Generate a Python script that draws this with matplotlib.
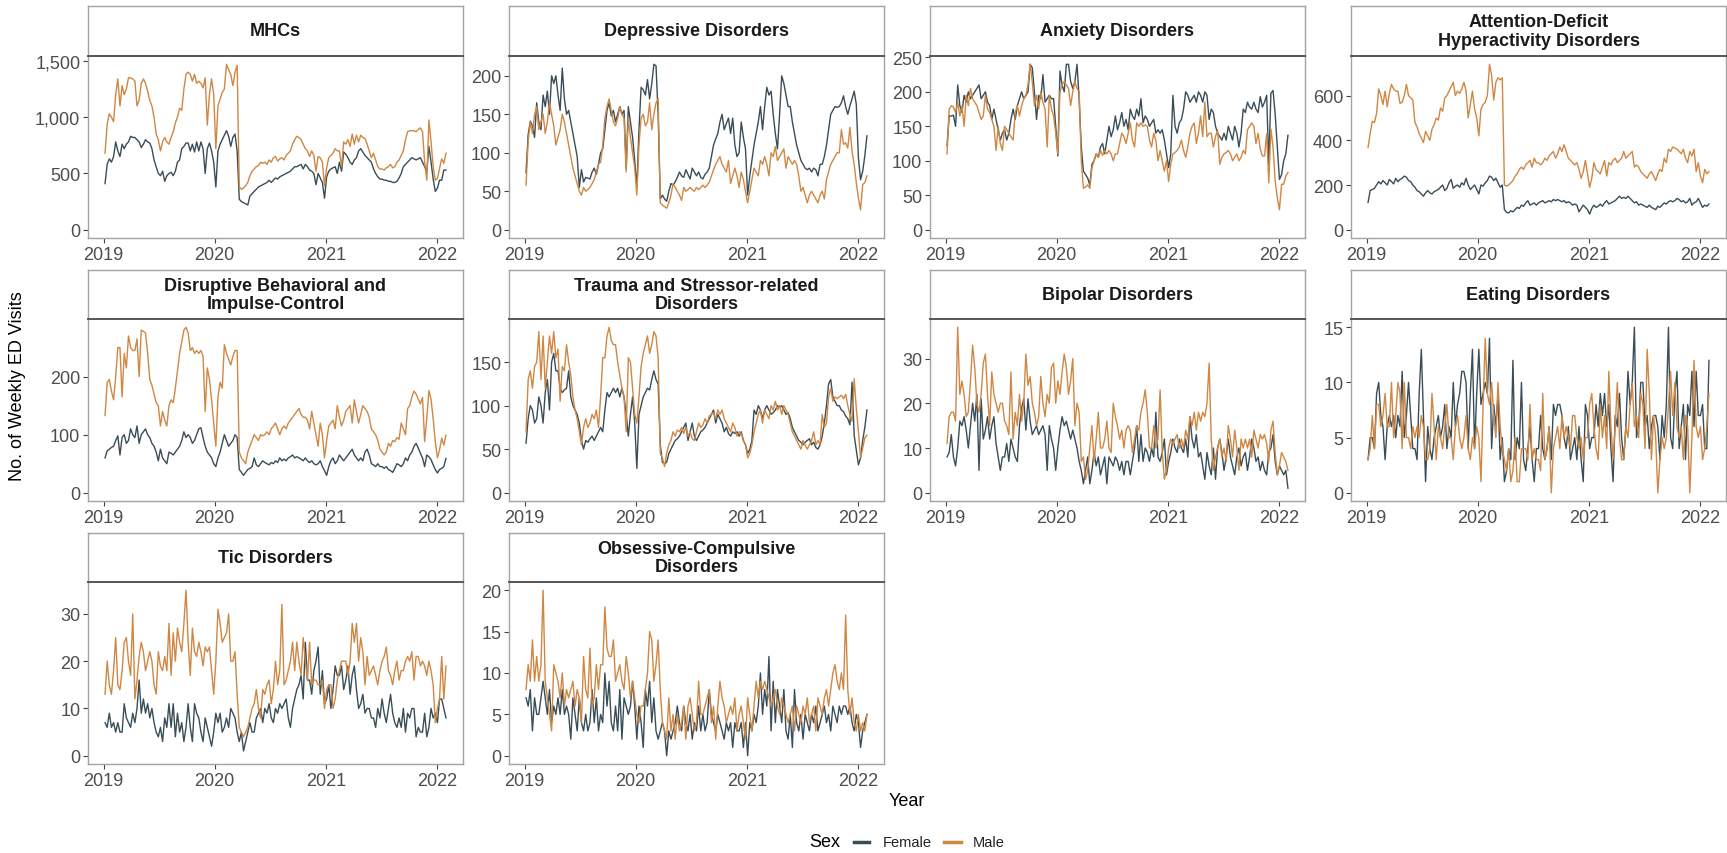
import pandas as pd
import matplotlib.pyplot as plt
import matplotlib.dates as mdates
from matplotlib.lines import Line2D
from matplotlib.ticker import FuncFormatter
from datetime import datetime

plt.rcParams['font.family'] = ['Liberation Sans', 'DejaVu Sans']

# weekly ED visits, Jan 2019 - Jan 2022
weeks = pd.date_range('2019-01-06', periods=161, freq='7D')
year_ticks = [2019, 2020, 2021, 2022]

titles = ['MHCs', 'Depressive Disorders', 'Anxiety Disorders',
          'Attention-Deficit\nHyperactivity Disorders',
          'Disruptive Behavioral and\nImpulse-Control',
          'Trauma and Stressor-related\nDisorders', 'Bipolar Disorders',
          'Eating Disorders', 'Tic Disorders',
          'Obsessive-Compulsive\nDisorders']

y_ticks = [[0, 500, 1000, 1500], [0, 50, 100, 150, 200],
           [0, 50, 100, 150, 200, 250], [0, 200, 400, 600],
           [0, 100, 200], [0, 50, 100, 150], [0, 10, 20, 30],
           [0, 5, 10, 15], [0, 10, 20, 30], [0, 5, 10, 15, 20]]

mhc_female = [410, 580, 630, 600, 650, 780, 700, 650, 760, 720,
              760, 780, 830, 820, 820, 800, 780, 730, 760, 800,
              780, 770, 720, 620, 560, 500, 480, 520, 430, 480,
              500, 510, 480, 520, 600, 620, 720, 740, 770, 770,
              700, 760, 690, 780, 700, 780, 720, 500, 720, 770,
              700, 600, 380, 700, 760, 800, 840, 880, 830, 740,
              820, 850, 700, 270, 250, 240, 230, 220, 300, 320,
              340, 360, 380, 390, 400, 410, 420, 440, 420, 440,
              460, 450, 470, 480, 490, 500, 510, 520, 540, 560,
              560, 570, 580, 540, 580, 560, 530, 520, 500, 400,
              500, 460, 420, 280, 470, 520, 540, 550, 560, 500,
              600, 520, 690, 670, 640, 600, 580, 620, 640, 700,
              720, 690, 660, 640, 620, 600, 540, 500, 470, 450,
              450, 440, 440, 430, 430, 420, 420, 430, 460, 500,
              560, 580, 600, 620, 640, 630, 620, 630, 640, 600,
              560, 515, 740, 600, 450, 340, 370, 440, 440, 530,
              530]
mhc_male = [680, 940, 1030, 1000, 960, 1200, 1340, 1100, 1280, 1200,
            1250, 1350, 1350, 1340, 1320, 1100, 1150, 1300, 1340, 1300,
            1230, 1150, 1100, 1000, 850, 800, 700, 780, 820, 780,
            760, 820, 870, 950, 1000, 1080, 1060, 1250, 1380, 1400,
            1380, 1320, 1380, 1300, 1320, 1300, 1260, 1350, 930, 1200,
            1340, 1200, 720, 1100, 1160, 1220, 1250, 1470, 1420, 1380,
            1280, 1400, 1460, 380, 360, 370, 390, 420, 480, 520,
            540, 560, 570, 600, 590, 600, 580, 620, 600, 640,
            650, 610, 630, 640, 620, 660, 680, 700, 760, 800,
            830, 820, 800, 760, 720, 700, 650, 700, 660, 520,
            650, 640, 600, 390, 550, 640, 660, 680, 720, 700,
            700, 560, 780, 760, 800, 740, 850, 760, 840, 780,
            840, 820, 810, 760, 700, 640, 680, 620, 560, 540,
            540, 530, 550, 560, 580, 550, 560, 600, 620, 660,
            700, 800, 870, 880, 880, 880, 870, 890, 905, 870,
            600, 440, 975, 780, 560, 440, 455, 545, 630, 590,
            680]

dep_female = [74, 124, 141, 135, 120, 165, 140, 130, 175, 160,
              180, 150, 200, 190, 200, 175, 155, 210, 170, 150,
              155, 140, 125, 110, 95, 55, 78, 62, 68, 67,
              66, 75, 80, 72, 85, 100, 105, 130, 155, 165,
              148, 155, 140, 150, 160, 150, 155, 80, 160, 140,
              120, 90, 55, 130, 185, 182, 175, 195, 170, 190,
              215, 213, 150, 40, 45, 40, 37, 50, 60, 58,
              62, 68, 75, 70, 68, 78, 72, 66, 80, 75,
              70, 75, 68, 66, 72, 75, 80, 95, 110, 118,
              125, 140, 150, 130, 138, 145, 125, 145, 110, 95,
              100, 140, 120, 105, 45, 70, 90, 110, 125, 140,
              160, 130, 160, 185, 175, 180, 150, 125, 105, 150,
              200, 190, 175, 160, 160, 140, 125, 110, 100, 90,
              85, 80, 78, 80, 75, 80, 78, 70, 85, 85,
              95, 110, 130, 150, 155, 160, 159, 160, 165, 174,
              160, 150, 161, 170, 180, 163, 93, 65, 76, 96,
              122]
dep_male = [58, 115, 140, 125, 150, 160, 130, 140, 150, 125,
            140, 165, 150, 135, 110, 120, 130, 150, 140, 125,
            110, 95, 80, 70, 60, 50, 45, 55, 50, 52,
            55, 60, 65, 75, 85, 88, 110, 145, 160, 170,
            155, 140, 135, 145, 160, 150, 145, 75, 145, 120,
            100, 80, 45, 110, 145, 150, 135, 140, 165, 130,
            150, 165, 170, 35, 32, 30, 28, 35, 45, 60,
            55, 50, 45, 38, 55, 50, 52, 55, 52, 50,
            55, 52, 55, 58, 55, 58, 62, 70, 78, 85,
            90, 95, 85, 80, 75, 90, 60, 70, 80, 70,
            55, 75, 65, 50, 35, 50, 65, 80, 75, 70,
            90, 85, 95, 85, 70, 100, 95, 108, 90, 95,
            100, 105, 80, 95, 90, 85, 90, 85, 70, 50,
            55, 45, 35, 45, 50, 45, 40, 35, 45, 50,
            40, 65, 75, 85, 90, 95, 100, 100, 130, 111,
            113, 106, 133, 102, 85, 61, 41, 26, 59, 61,
            70]

anx_female = [122, 165, 165, 166, 150, 210, 180, 170, 195, 185,
              200, 190, 195, 200, 205, 210, 190, 195, 200, 185,
              180, 160, 175, 160, 145, 130, 140, 145, 130, 140,
              160, 175, 160, 180, 190, 200, 190, 195, 200, 240,
              235, 200, 160, 195, 190, 225, 185, 190, 195, 190,
              190, 150, 107, 230, 210, 200, 240, 240, 215, 205,
              215, 240, 190, 120, 85, 80, 75, 65, 95, 100,
              110, 105, 120, 125, 110, 130, 150, 135, 145, 165,
              145, 155, 170, 150, 160, 145, 175, 165, 160, 175,
              165, 190, 155, 165, 160, 150, 155, 160, 140, 145,
              140, 145, 130, 110, 90, 110, 195, 150, 140, 155,
              160, 175, 200, 195, 185, 190, 195, 185, 200, 195,
              185, 200, 195, 160, 175, 170, 150, 140, 135, 130,
              140, 130, 150, 140, 130, 150, 140, 120, 140, 175,
              170, 185, 178, 175, 185, 175, 170, 193, 178, 185,
              195, 95, 198, 202, 168, 120, 73, 80, 100, 110,
              137]
anx_male = [110, 175, 180, 178, 170, 185, 165, 180, 150, 195,
            180, 205, 190, 185, 180, 170, 160, 165, 195, 175,
            170, 160, 150, 115, 150, 125, 115, 150, 145, 140,
            135, 130, 170, 180, 165, 180, 190, 195, 210, 240,
            215, 180, 195, 175, 200, 185, 175, 120, 195, 175,
            165, 140, 110, 200, 210, 215, 210, 205, 180, 200,
            215, 205, 200, 100, 60, 62, 65, 60, 90, 100,
            110, 105, 115, 108, 115, 110, 115, 110, 100, 110,
            110, 125, 140, 135, 125, 140, 155, 130, 120, 155,
            150, 155, 150, 152, 150, 130, 120, 140, 130, 100,
            115, 100, 85, 100, 70, 95, 110, 112, 115, 120,
            130, 115, 105, 120, 140, 150, 155, 125, 140, 165,
            135, 185, 135, 140, 140, 120, 135, 145, 95, 105,
            110, 112, 115, 110, 100, 105, 110, 100, 105, 115,
            110, 145, 150, 155, 150, 125, 140, 117, 107, 107,
            139, 68, 146, 120, 71, 46, 29, 66, 66, 78,
            83]

adhd_female = [122, 175, 180, 185, 200, 215, 205, 220, 210, 200,
               225, 215, 205, 230, 215, 225, 230, 240, 235, 220,
               215, 200, 190, 175, 170, 160, 150, 165, 175, 165,
               160, 170, 175, 180, 190, 200, 175, 185, 210, 225,
               185, 195, 200, 190, 210, 200, 230, 200, 180, 190,
               200, 180, 160, 200, 195, 210, 220, 240, 235, 220,
               230, 210, 190, 200, 90, 78, 75, 85, 80, 90,
               100, 95, 110, 105, 120, 130, 110, 115, 120, 110,
               120, 125, 130, 120, 125, 130, 125, 135, 130, 135,
               130, 125, 130, 120, 125, 120, 110, 115, 110, 80,
               95, 110, 100, 90, 70, 95, 110, 100, 105, 115,
               105, 120, 130, 115, 120, 125, 130, 140, 150, 140,
               145, 140, 150, 140, 130, 120, 125, 110, 115, 110,
               105, 100, 110, 100, 95, 90, 105, 100, 110, 120,
               115, 125, 130, 125, 130, 140, 135, 125, 130, 120,
               125, 140, 110, 120, 125, 140, 120, 100, 110, 105,
               115]
adhd_male = [368, 430, 485, 480, 520, 630, 600, 560, 620, 550,
             610, 650, 630, 620, 620, 565, 570, 600, 650, 600,
             590, 580, 480, 460, 430, 410, 390, 440, 420, 400,
             450, 470, 500, 490, 545, 530, 590, 600, 620, 640,
             660, 600, 620, 610, 630, 660, 620, 500, 560, 620,
             540, 500, 420, 540, 560, 570, 600, 740, 690, 580,
             660, 680, 670, 680, 200, 195, 200, 210, 220, 240,
             250, 270, 280, 270, 290, 300, 310, 280, 320, 300,
             300, 290, 300, 320, 310, 330, 340, 350, 320, 340,
             370, 350, 380, 350, 320, 310, 300, 290, 300, 270,
             230, 260, 310, 250, 190, 230, 300, 270, 260, 250,
             280, 310, 240, 300, 290, 310, 320, 300, 310, 320,
             350, 320, 330, 340, 350, 280, 290, 280, 260, 250,
             240, 230, 250, 260, 240, 220, 250, 270, 260, 320,
             300, 360, 350, 370, 365, 360, 350, 340, 360, 320,
             300, 350, 330, 360, 260, 300, 240, 210, 270, 250,
             260]

dis_female = [60, 72, 75, 78, 80, 90, 98, 65, 95, 100,
              85, 90, 110, 100, 95, 115, 85, 100, 105, 110,
              100, 95, 85, 80, 70, 55, 75, 60, 55, 50,
              70, 68, 65, 70, 75, 80, 90, 105, 95, 100,
              95, 85, 90, 100, 110, 112, 95, 80, 70, 65,
              60, 50, 45, 60, 70, 85, 100, 90, 80, 85,
              90, 100, 95, 40, 35, 30, 35, 40, 42, 45,
              60, 48, 45, 50, 55, 52, 50, 48, 52, 50,
              55, 52, 60, 55, 58, 55, 60, 62, 65, 60,
              62, 60, 58, 55, 60, 55, 52, 55, 50, 48,
              50, 55, 45, 38, 30, 45, 55, 60, 50, 55,
              65, 60, 55, 60, 65, 70, 75, 65, 60, 55,
              60, 55, 70, 75, 65, 50, 48, 45, 50, 45,
              45, 42, 45, 40, 38, 35, 42, 50, 48, 45,
              50, 60, 55, 65, 70, 80, 85, 77, 68, 60,
              45, 65, 62, 57, 48, 40, 34, 40, 42, 45,
              59]
dis_male = [133, 190, 195, 175, 160, 200, 250, 250, 165, 240,
            215, 270, 250, 245, 245, 265, 200, 280, 278, 275,
            240, 195, 185, 170, 155, 150, 115, 140, 125, 115,
            150, 160, 155, 180, 210, 240, 260, 280, 285, 275,
            245, 250, 240, 245, 240, 245, 235, 140, 215, 195,
            160, 120, 80, 165, 190, 180, 255, 240, 230, 220,
            235, 245, 245, 70, 60, 55, 50, 70, 80, 90,
            100, 95, 90, 100, 98, 100, 105, 100, 110, 115,
            120, 110, 100, 110, 115, 110, 120, 125, 130, 135,
            140, 145, 135, 130, 130, 125, 110, 140, 120, 100,
            80, 120, 100, 60, 90, 115, 120, 125, 110, 150,
            130, 115, 125, 140, 145, 150, 120, 160, 140, 120,
            135, 150, 145, 140, 130, 110, 105, 100, 90, 75,
            70, 65, 70, 85, 80, 90, 88, 95, 92, 120,
            110, 100, 145, 150, 165, 175, 170, 161, 153, 164,
            88, 128, 176, 161, 128, 88, 60, 74, 94, 82,
            99]

tra_female = [57, 85, 100, 95, 80, 85, 110, 100, 80, 115,
              130, 95, 150, 160, 140, 140, 120, 115, 118, 120,
              140, 110, 100, 95, 90, 80, 60, 50, 60, 58,
              62, 65, 60, 65, 70, 75, 70, 95, 115, 110,
              115, 120, 115, 120, 110, 120, 110, 90, 65, 90,
              110, 80, 28, 90, 100, 110, 115, 120, 118, 130,
              140, 130, 125, 55, 35, 33, 35, 45, 50, 55,
              60, 62, 65, 70, 75, 80, 60, 70, 80, 65,
              60, 65, 70, 72, 75, 80, 85, 90, 95, 80,
              90, 85, 80, 70, 75, 68, 65, 70, 68, 70,
              65, 70, 60, 55, 45, 50, 60, 95, 90, 100,
              95, 85, 95, 100, 95, 90, 92, 95, 100, 98,
              100, 95, 90, 92, 85, 75, 70, 65, 60, 58,
              55, 58, 60, 62, 55, 58, 52, 50, 55, 65,
              80, 100, 125, 130, 110, 105, 100, 100, 95, 93,
              88, 85, 78, 127, 66, 49, 32, 40, 60, 75,
              95]
tra_male = [70, 130, 140, 120, 145, 150, 185, 130, 180, 120,
            150, 180, 160, 185, 155, 165, 105, 145, 140, 170,
            150, 135, 110, 95, 85, 70, 55, 75, 85, 75,
            80, 90, 85, 95, 75, 110, 155, 155, 180, 190,
            175, 170, 170, 150, 135, 120, 110, 70, 155, 150,
            120, 90, 80, 110, 145, 160, 170, 180, 160, 170,
            185, 180, 155, 45, 40, 30, 45, 55, 60, 70,
            65, 72, 70, 75, 68, 75, 65, 70, 62, 60,
            70, 80, 75, 78, 85, 80, 88, 90, 92, 85,
            95, 90, 95, 85, 80, 75, 70, 80, 75, 65,
            70, 68, 60, 55, 40, 45, 55, 70, 80, 90,
            95, 80, 95, 90, 85, 100, 95, 105, 95, 100,
            90, 100, 95, 90, 80, 70, 65, 60, 55, 50,
            60, 55, 50, 55, 60, 70, 55, 60, 55, 90,
            75, 80, 110, 120, 105, 110, 108, 110, 112, 108,
            113, 100, 90, 82, 131, 97, 70, 40, 51, 63,
            66]

bip_female = [8, 9, 13, 8, 6, 10, 16, 15, 17, 14,
              10, 15, 20, 16, 22, 5, 21, 12, 14, 17,
              12, 15, 17, 11, 8, 5, 8, 8, 11, 7,
              12, 10, 8, 7, 15, 19, 21, 14, 21, 16,
              13, 14, 15, 13, 14, 15, 13, 5, 15, 12,
              10, 5, 10, 14, 17, 15, 16, 14, 12, 14,
              12, 10, 7, 5, 2, 5, 8, 2, 5, 9,
              6, 8, 4, 6, 8, 2, 8, 7, 6, 8,
              7, 5, 7, 4, 7, 7, 4, 7, 10, 15,
              7, 13, 7, 10, 9, 7, 10, 8, 18, 8,
              7, 9, 12, 4, 7, 9, 12, 10, 9, 12,
              10, 9, 12, 8, 17, 12, 10, 13, 8, 9,
              6, 3, 9, 6, 4, 10, 3, 10, 12, 9,
              5, 8, 12, 8, 6, 4, 8, 10, 6, 8,
              9, 5, 8, 12, 10, 7, 8, 5, 7, 5,
              4, 9, 10, 13, 7, 4, 6, 5, 4, 5,
              1]
bip_male = [11, 17, 18, 18, 16, 37, 22, 25, 22, 17,
            18, 25, 33, 28, 20, 18, 22, 29, 31, 22,
            15, 27, 22, 20, 18, 20, 20, 16, 15, 13,
            27, 12, 18, 15, 22, 16, 20, 31, 24, 26,
            20, 18, 15, 17, 26, 20, 17, 22, 20, 28,
            29, 20, 25, 22, 27, 31, 28, 22, 25, 30,
            15, 20, 18, 7, 8, 3, 5, 10, 15, 7,
            12, 18, 10, 10, 12, 16, 10, 9, 20, 17,
            15, 12, 14, 10, 14, 15, 14, 9, 12, 15,
            14, 18, 20, 23, 18, 10, 10, 15, 10, 12,
            23, 9, 3, 5, 10, 12, 11, 12, 13, 10,
            12, 10, 14, 12, 17, 15, 18, 14, 18, 16,
            18, 17, 20, 29, 12, 5, 8, 10, 12, 8,
            10, 7, 15, 12, 8, 14, 10, 5, 12, 10,
            12, 10, 12, 8, 14, 12, 10, 13, 12, 13,
            11, 7, 14, 16, 9, 4, 6, 9, 8, 7,
            5]

eat_female = [3, 5, 5, 4, 9, 10, 7, 6, 3, 6,
              7, 6, 7, 5, 7, 6, 11, 5, 7, 10,
              7, 4, 4, 3, 9, 13, 7, 1, 6, 4,
              3, 5, 6, 7, 5, 6, 8, 4, 6, 5,
              10, 6, 8, 9, 11, 11, 10, 4, 9, 13,
              4, 9, 13, 8, 9, 10, 9, 14, 4, 8,
              6, 9, 3, 5, 1, 2, 4, 3, 12, 3,
              5, 4, 10, 3, 2, 4, 6, 3, 1, 4,
              4, 7, 4, 3, 4, 6, 3, 8, 7, 8,
              8, 7, 5, 4, 6, 3, 4, 5, 3, 6,
              3, 1, 8, 7, 4, 5, 5, 8, 6, 9,
              7, 9, 6, 8, 4, 1, 7, 6, 9, 5,
              3, 6, 11, 8, 10, 15, 5, 6, 10, 10,
              6, 7, 4, 6, 7, 7, 6, 3, 7, 5,
              8, 15, 5, 4, 9, 11, 4, 6, 8, 3,
              8, 7, 11, 6, 11, 7, 7, 8, 4, 4,
              12]
eat_male = [3, 4, 7, 4, 8, 8, 6, 7, 9, 6,
            6, 10, 5, 7, 10, 9, 4, 10, 5, 5,
            4, 6, 5, 6, 5, 7, 6, 3, 3, 4,
            9, 6, 3, 6, 5, 4, 6, 8, 5, 5,
            3, 6, 7, 5, 4, 5, 7, 4, 3, 5,
            4, 6, 5, 1, 8, 14, 9, 8, 10, 7,
            5, 10, 6, 4, 3, 2, 4, 1, 2, 5,
            1, 1, 4, 4, 4, 3, 8, 3, 4, 3,
            3, 2, 9, 3, 4, 6, 0, 4, 5, 6,
            4, 7, 5, 6, 5, 4, 7, 7, 5, 4,
            5, 3, 5, 5, 8, 9, 6, 4, 3, 8,
            5, 7, 4, 11, 6, 3, 6, 10, 5, 3,
            3, 6, 5, 8, 10, 6, 7, 5, 9, 8,
            4, 13, 9, 3, 7, 5, 0, 3, 5, 4,
            5, 8, 11, 7, 10, 6, 5, 6, 3, 7,
            6, 0, 5, 12, 6, 5, 6, 3, 4, 6,
            9]

tic_female = [7, 6, 9, 6, 7, 5, 7, 5, 5, 11,
              8, 7, 6, 9, 7, 10, 16, 9, 12, 9,
              11, 8, 10, 7, 5, 4, 6, 3, 8, 6,
              11, 6, 11, 4, 9, 5, 7, 3, 6, 11,
              6, 3, 11, 9, 8, 5, 3, 8, 6, 4,
              2, 5, 9, 7, 9, 5, 6, 8, 6, 10,
              9, 8, 5, 3, 5, 1, 3, 5, 7, 5,
              5, 8, 9, 10, 7, 10, 9, 11, 8, 7,
              10, 9, 11, 10, 11, 12, 8, 6, 10, 12,
              14, 15, 17, 12, 24, 16, 16, 13, 18, 20,
              23, 13, 18, 11, 12, 15, 10, 14, 19, 17,
              17, 19, 14, 16, 19, 13, 17, 19, 14, 10,
              11, 13, 9, 10, 10, 8, 8, 6, 10, 8,
              12, 9, 7, 10, 13, 9, 7, 6, 8, 6,
              10, 5, 9, 8, 10, 10, 4, 6, 5, 5,
              9, 4, 6, 10, 8, 9, 7, 12, 12, 10,
              8]
tic_male = [13, 20, 15, 13, 18, 25, 15, 14, 18, 24,
            25, 20, 17, 30, 12, 16, 21, 24, 22, 18,
            20, 22, 20, 15, 13, 22, 19, 18, 21, 18,
            28, 17, 26, 20, 27, 24, 22, 28, 35, 24,
            17, 27, 22, 21, 24, 22, 19, 23, 22, 23,
            18, 13, 20, 31, 28, 24, 25, 26, 30, 20,
            20, 22, 13, 6, 5, 4, 5, 6, 8, 10,
            11, 14, 10, 8, 14, 13, 15, 16, 11, 14,
            20, 15, 18, 32, 15, 16, 18, 20, 24, 18,
            24, 20, 17, 25, 20, 16, 24, 15, 16, 16,
            15, 15, 16, 10, 14, 15, 15, 10, 12, 16,
            18, 20, 20, 20, 17, 20, 28, 24, 28, 20,
            25, 22, 15, 21, 17, 18, 19, 17, 15, 18,
            20, 21, 23, 18, 17, 15, 18, 20, 16, 18,
            18, 20, 21, 20, 22, 16, 21, 21, 19, 20,
            19, 17, 20, 18, 15, 7, 10, 12, 21, 12,
            19]

ocd_female = [7, 6, 8, 3, 7, 5, 5, 7, 9, 7,
              5, 8, 4, 6, 5, 7, 5, 8, 5, 6,
              5, 2, 7, 5, 3, 7, 4, 3, 5, 3,
              4, 8, 4, 7, 3, 5, 4, 10, 6, 9,
              4, 3, 6, 3, 8, 2, 7, 6, 5, 6,
              9, 6, 2, 6, 4, 1, 8, 6, 9, 4,
              7, 3, 2, 3, 4, 3, 0, 3, 2, 3,
              4, 6, 4, 3, 6, 4, 3, 5, 2, 4,
              3, 6, 3, 5, 3, 4, 8, 5, 4, 3,
              5, 4, 3, 2, 4, 3, 4, 1, 4, 3,
              3, 4, 1, 4, 0, 4, 3, 5, 4, 6,
              10, 5, 8, 6, 12, 3, 9, 4, 8, 6,
              4, 8, 3, 2, 5, 1, 8, 4, 3, 5,
              2, 5, 4, 3, 5, 4, 6, 3, 4, 5,
              6, 4, 5, 3, 6, 5, 4, 6, 5, 6,
              6, 5, 6, 4, 3, 5, 4, 1, 3, 4,
              5]
ocd_male = [8, 11, 9, 14, 9, 12, 9, 11, 20, 9,
            7, 5, 3, 11, 10, 9, 7, 10, 6, 8,
            7, 8, 9, 6, 8, 7, 4, 12, 8, 7,
            13, 6, 7, 11, 8, 11, 11, 18, 13, 12,
            12, 14, 9, 10, 11, 9, 8, 12, 10, 7,
            9, 7, 5, 4, 6, 6, 8, 10, 15, 14,
            9, 11, 14, 8, 4, 3, 2, 7, 3, 5,
            2, 5, 3, 4, 6, 2, 6, 7, 5, 3,
            4, 9, 5, 5, 6, 7, 8, 4, 6, 2,
            6, 9, 7, 6, 4, 5, 6, 5, 7, 3,
            5, 6, 4, 2, 7, 5, 3, 6, 9, 7,
            9, 8, 9, 8, 7, 6, 7, 8, 6, 5,
            7, 6, 5, 4, 5, 6, 3, 6, 5, 4,
            6, 5, 7, 4, 5, 6, 3, 7, 6, 5,
            7, 8, 6, 8, 10, 11, 9, 8, 10, 8,
            17, 8, 5, 7, 4, 3, 5, 3, 4, 3,
            5]

female_series = [mhc_female, dep_female, anx_female, adhd_female, dis_female,
                 tra_female, bip_female, eat_female, tic_female, ocd_female]
male_series = [mhc_male, dep_male, anx_male, adhd_male, dis_male,
               tra_male, bip_male, eat_male, tic_male, ocd_male]

FEMALE = '#394d58'
MALE = '#cf8743'
BORDER = '#a3a3a3'

W, H = 1727, 854
fig = plt.figure(figsize=(W / 100, H / 100), dpi=100)

col_left = [88, 509, 930, 1351]
panel_w = 375
rows = [(7, 57, 239), (271, 320, 502), (534, 583, 765)]


def rect(x0, y0, x1, y1):
    return [x0 / W, 1 - y1 / H, (x1 - x0) / W, (y1 - y0) / H]


x = mdates.date2num(weeks.to_pydatetime())
span = x[-1] - x[0]
xt = [mdates.date2num(datetime(y, 1, 1)) for y in year_ticks]
comma = FuncFormatter(lambda v, p: f'{int(v):,}')

for i, title in enumerate(titles):
    r, c = divmod(i, 4)
    top, mid, bot = rows[r]
    left = col_left[c]
    ax = fig.add_axes(rect(left, mid, left + panel_w, bot))
    f = female_series[i]
    m = male_series[i]
    ax.plot(x[:len(f)], f, color=FEMALE, lw=1.0)
    ax.plot(x[:len(m)], m, color=MALE, lw=1.0)
    ymax = max(max(f), max(m))
    ax.set_ylim(-0.05 * ymax, 1.05 * ymax)
    ax.set_xlim(x[0] - 0.05 * span, x[-1] + 0.05 * span)
    ax.set_xticks(xt)
    ax.set_xticklabels([str(y) for y in year_ticks])
    ax.set_yticks(y_ticks[i])
    ax.yaxis.set_major_formatter(comma)
    ax.tick_params(axis='both', length=3.5, width=0.8, color='#444444',
                   labelcolor='#4d4d4d', labelsize=13, pad=2)
    for s in ax.spines.values():
        s.set_color(BORDER)
        s.set_linewidth(1.0)
    ax.spines['top'].set_visible(False)

    strip = fig.add_axes(rect(left, top, left + panel_w, mid))
    strip.set_xticks([])
    strip.set_yticks([])
    for s in strip.spines.values():
        s.set_color(BORDER)
        s.set_linewidth(1.0)
    strip.spines['bottom'].set_color('#555555')
    strip.spines['bottom'].set_linewidth(1.4)
    strip.text(0.5, 0.5, title, ha='center', va='center', fontsize=13,
               fontweight='bold', color='#1a1a1a', linespacing=1.15,
               transform=strip.transAxes)

fig.text(18 / W, 1 - 386 / H, 'No. of Weekly ED Visits', rotation=90,
         ha='center', va='center', fontsize=13)
fig.text(907 / W, 1 - 802 / H, 'Year', ha='center', va='center', fontsize=13)

# legend
ly = 1 - 843 / H
fig.text(809 / W, ly, 'Sex', ha='left', va='center', fontsize=13)
fig.add_artist(Line2D([854 / W, 869 / W], [ly, ly], color=FEMALE, lw=2.5,
                      transform=fig.transFigure))
fig.text(883 / W, ly, 'Female', ha='left', va='center', fontsize=10.5,
         color='#222222')
fig.add_artist(Line2D([944 / W, 961 / W], [ly, ly], color=MALE, lw=2.5,
                      transform=fig.transFigure))
fig.text(973 / W, ly, 'Male', ha='left', va='center', fontsize=10.5,
         color='#222222')

fig.savefig('out.png', dpi=100)
